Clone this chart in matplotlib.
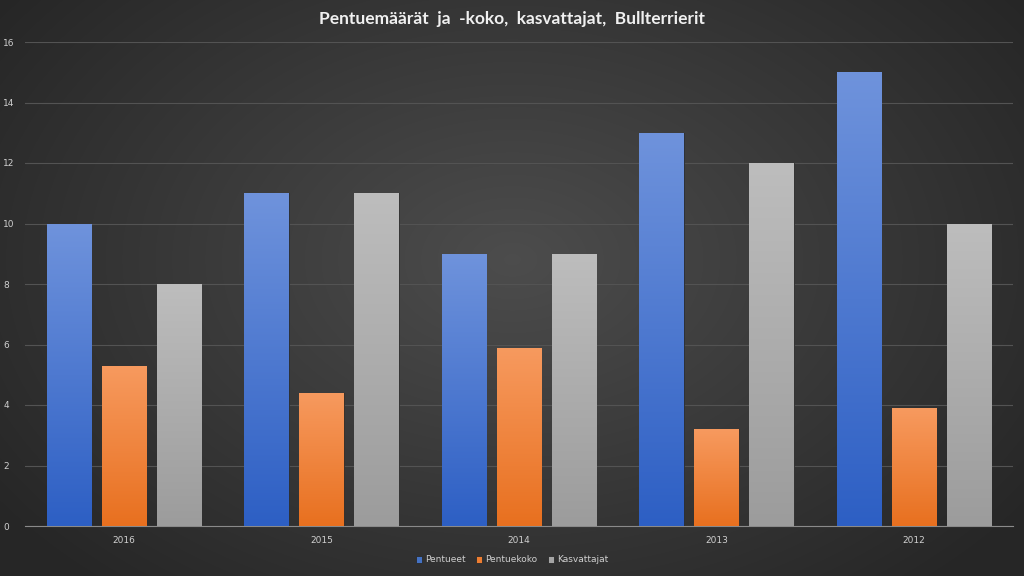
import numpy as np
import matplotlib
matplotlib.use("Agg")
import matplotlib.pyplot as plt
from matplotlib.colors import LinearSegmentedColormap

years = ["2016", "2015", "2014", "2013", "2012"]
pentueet = [10, 11, 9, 13, 15]
pentuekoko = [5.3, 4.4, 5.9, 3.2, 3.9]
kasvattajat = [8, 11, 9, 12, 10]
series_names = ["Pentueet", "Pentuekoko", "Kasvattajat"]
yticks = [0, 2, 4, 6, 8, 10, 12, 14, 16]

W, H = 1024, 576
fig = plt.figure(figsize=(W / 100, H / 100), dpi=100)

# radial gradient background
bg = fig.add_axes([0, 0, 1, 1], zorder=-10)
yy, xx = np.mgrid[0:H, 0:W]
r = np.sqrt(((xx - W / 2) / (W * 0.62)) ** 2 + ((yy - H * 0.45) / (H * 0.75)) ** 2)
r = np.clip(r, 0, 1)
val = 0.30 - 0.15 * r
bg.imshow(np.dstack([val, val, val]), aspect="auto", extent=[0, 1, 0, 1])
bg.axis("off")

AX_L, AX_W = 25, 988
ax = fig.add_axes([AX_L / W, 50 / H, AX_W / W, 484 / H])
ax.set_facecolor("none")

x = np.arange(len(years))
w = 0.225
off = 0.278
grads = [
    ("#6f93dc", "#2d5fc4"),
    ("#f79a5f", "#e8701f"),
    ("#bdbdbd", "#9c9c9c"),
]
legend_colors = ["#4472c4", "#ed7d31", "#a5a5a5"]
data = [pentueet, pentuekoko, kasvattajat]
for i, (vals, name) in enumerate(zip(data, series_names)):
    bars = ax.bar(x + (i - 1) * off, vals, width=w, color=legend_colors[i],
                  label=name, zorder=3, edgecolor="#2a2a2a", linewidth=0.6)
    cmap = LinearSegmentedColormap.from_list("g", [grads[i][1], grads[i][0]])
    grad = np.linspace(0, 1, 256).reshape(-1, 1)
    for b in bars:
        bx, by = b.get_x(), b.get_y()
        bw, bh = b.get_width(), b.get_height()
        im = ax.imshow(grad, cmap=cmap, aspect="auto", origin="lower",
                       extent=[bx, bx + bw, by, by + bh], zorder=3.5)
        im.set_clip_path(b)

ax.set_xlim(-0.5, len(years) - 0.5)
ax.set_ylim(0, 16)
ax.set_yticks(yticks)
ax.set_yticklabels([str(t) for t in yticks])
ax.set_xticks(x)
ax.set_xticklabels(years)
ax.tick_params(axis="both", length=0, colors="#d0d0d0", labelsize=6.5)
ax.tick_params(axis="x", pad=7)
for lbl in ax.get_yticklabels():
    lbl.set_horizontalalignment("left")
    lbl.set_x(-17 / AX_W)
ax.grid(axis="y", color="#535353", linewidth=0.8, zorder=0)
for s in ["top", "right", "left"]:
    ax.spines[s].set_visible(False)
ax.spines["bottom"].set_color("#8a8a8a")
ax.spines["bottom"].set_linewidth(0.8)

fig.text(0.5, 1 - 19 / H, "Pentuemäärät  ja  -koko,  kasvattajat,  Bullterrierit",
         ha="center", va="center", color="#f0f0f0", fontsize=12.5,
         fontweight="bold", family=["Lato", "DejaVu Sans"])

leg = fig.legend(loc="center", bbox_to_anchor=(0.5, 1 - 560 / H), ncol=3,
                 frameon=False, fontsize=6.5, handlelength=0.7, handleheight=0.7,
                 handletextpad=0.3, columnspacing=1.2)
for t in leg.get_texts():
    t.set_color("#d0d0d0")

fig.savefig("out.png", dpi=100)
